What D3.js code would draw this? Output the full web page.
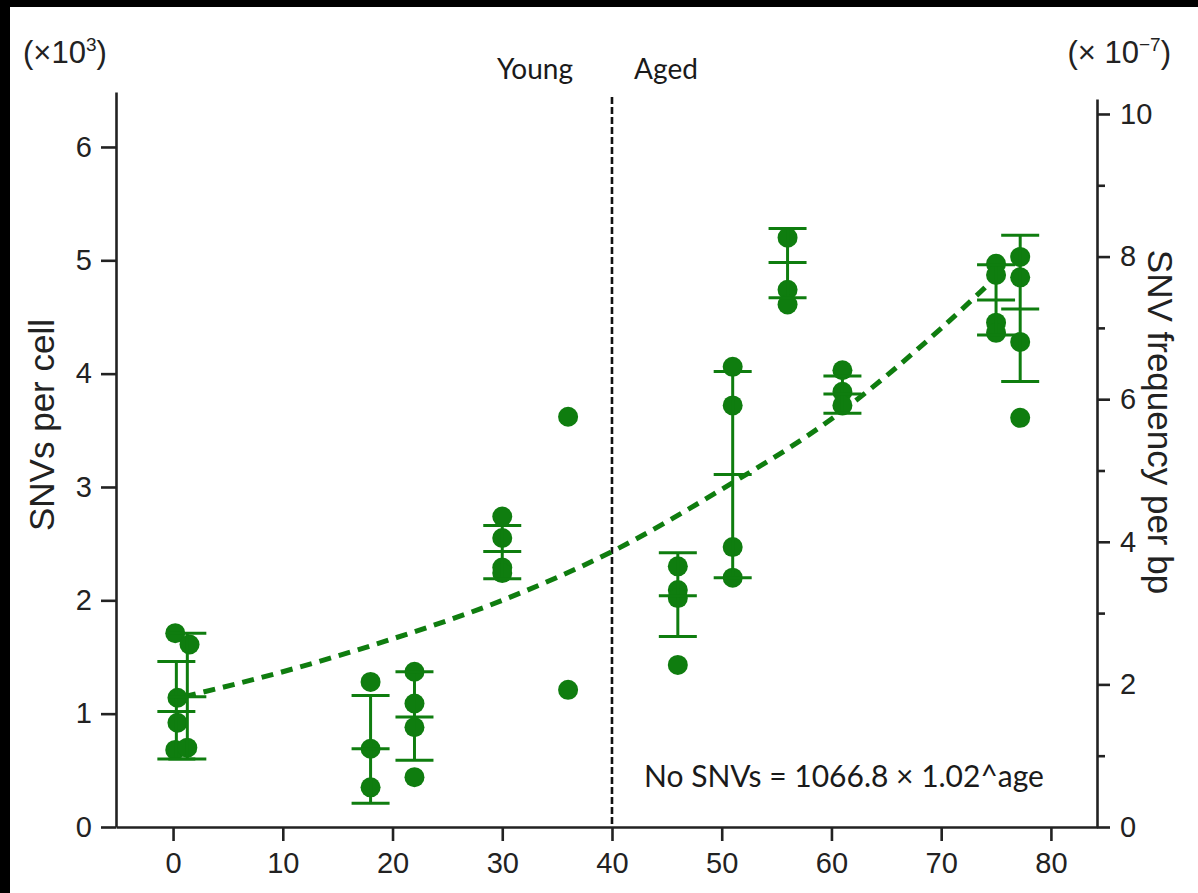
<!DOCTYPE html>
<html>
<head>
<meta charset="utf-8">
<script src="https://cdn.jsdelivr.net/npm/d3@7"></script>
<style>
  body { margin: 0; background: #000; }
  svg { display: block; }
</style>
</head>
<body>
<div id="chart"></div>
<script>
// single cells: donor age and SNVs per cell (x10^3)
const pointAges = [0.2, 0.4, 0.4, 0.2, 1.5, 1.3,
  18, 18, 18, 22, 22, 22, 22, 30, 30, 30, 30, 36, 36,
  46, 46, 46, 46, 51, 51, 51, 51, 56, 56, 56, 61, 61, 61,
  75, 75, 75, 75, 77.2, 77.2, 77.2, 77.2]
const pointValues = [1.71, 1.14, 0.92, 0.68, 1.61, 0.70,
  1.28, 0.69, 0.35, 1.37, 1.09, 0.88, 0.44, 2.74, 2.55, 2.29, 2.24, 3.62, 1.21,
  2.30, 2.09, 2.02, 1.43, 4.06, 3.72, 2.47, 2.20, 5.20, 4.74, 4.61, 4.03, 3.84, 3.72,
  4.97, 4.87, 4.45, 4.36, 5.03, 4.85, 4.28, 3.61]

// mean and SD bars per donor
const barAges = [0.3, 1.3, 18, 22, 30, 46, 51, 56, 61, 75, 77.2]
const barMean = [1.02, 1.15, 0.69, 0.97, 2.43, 2.04, 3.11, 4.98, 3.82, 4.65, 4.57]
const barLow = [0.60, 0.60, 0.21, 0.59, 2.19, 1.68, 2.20, 4.67, 3.65, 4.34, 3.93]
const barHigh = [1.46, 1.71, 1.16, 1.37, 2.66, 2.42, 4.02, 5.28, 3.98, 4.96, 5.22]

// exponential fit as drawn
const fitAges = [1, 10, 20, 30, 40, 50, 60, 70, 74]
const fitValues = [1.15, 1.37, 1.66, 2.00, 2.43, 2.98, 3.60, 4.40, 4.76]

const xTicks = [0, 10, 20, 30, 40, 50, 60, 70, 80]
const leftTicks = [0, 1, 2, 3, 4, 5, 6]
const rightTicks = [0, 2, 4, 6, 8, 10]
const rightMinor = [1, 3, 5, 7, 9]

const W = 1198, H = 893
const green = '#0f7d0f'
const axisFont = 'Liberation Sans, Arial, sans-serif'
const noteFont = 'Lato, Open Sans, sans-serif'

const svg = d3.select('#chart').append('svg')
  .attr('width', W)
  .attr('height', H)

svg.append('rect').attr('width', W).attr('height', H).attr('fill', '#000')
svg.append('rect').attr('x', 10).attr('y', 7).attr('width', W - 10).attr('height', H - 7).attr('fill', '#fff')

const x = d3.scaleLinear().domain([-5.2, 84.2]).range([116, 1097])
const y = d3.scaleLinear().domain([0, 6.485]).range([827, 92])
const y2 = d3.scaleLinear().domain([0, 10.21]).range([827, 99])

const styleAxis = g => {
  g.selectAll('path, line').attr('stroke', '#222').attr('stroke-width', 2.6)
  g.selectAll('text').attr('font-family', axisFont).attr('font-size', 29).attr('fill', '#222')
}

svg.append('g')
  .attr('transform', 'translate(0,827)')
  .call(d3.axisBottom(x).tickValues(xTicks).tickSize(14).tickSizeOuter(0).tickPadding(11))
  .call(styleAxis)

svg.append('g')
  .attr('transform', 'translate(116,0)')
  .call(d3.axisLeft(y).tickValues(leftTicks).tickFormat(d3.format('d')).tickSize(15).tickSizeOuter(0).tickPadding(9))
  .call(styleAxis)

svg.append('g')
  .attr('transform', 'translate(1097,0)')
  .call(d3.axisRight(y2).tickValues(rightTicks).tickSize(13).tickSizeOuter(0).tickPadding(10))
  .call(styleAxis)

svg.append('g')
  .attr('transform', 'translate(1097,0)')
  .call(d3.axisRight(y2).tickValues(rightMinor).tickSize(8).tickSizeOuter(0).tickFormat(''))
  .call(styleAxis)
  .select('.domain').remove()

// axis titles
svg.append('text')
  .attr('transform', 'translate(54,425) rotate(-90)')
  .attr('text-anchor', 'middle')
  .attr('font-family', axisFont).attr('font-size', 35).attr('fill', '#222')
  .text('SNVs per cell')

svg.append('text')
  .attr('transform', 'translate(1148,422) rotate(90)')
  .attr('text-anchor', 'middle')
  .attr('font-family', axisFont).attr('font-size', 35).attr('fill', '#222')
  .text('SNV frequency per bp')

// unit labels
const unitL = svg.append('text')
  .attr('x', 23).attr('y', 63)
  .attr('font-family', axisFont).attr('font-size', 31).attr('fill', '#222')
unitL.append('tspan').text('(×10')
unitL.append('tspan').attr('font-size', 19).attr('dy', -12).text('3')
unitL.append('tspan').attr('dy', 12).text(')')

const unitR = svg.append('text')
  .attr('x', 1171).attr('y', 63).attr('text-anchor', 'end')
  .attr('font-family', axisFont).attr('font-size', 31).attr('fill', '#222')
unitR.append('tspan').text('(× 10')
unitR.append('tspan').attr('font-size', 19).attr('dy', -12).text('−7')
unitR.append('tspan').attr('dy', 12).text(')')

// young / aged divider
svg.append('line')
  .attr('x1', x(40)).attr('x2', x(40))
  .attr('y1', 97).attr('y2', 827)
  .attr('stroke', '#111').attr('stroke-width', 2.6)
  .attr('stroke-dasharray', '7,3')

svg.append('text')
  .attr('x', 535).attr('y', 79).attr('text-anchor', 'middle')
  .attr('font-family', noteFont).attr('font-size', 28).attr('fill', '#1a1a1a')
  .text('Young')
svg.append('text')
  .attr('x', 666).attr('y', 79).attr('text-anchor', 'middle')
  .attr('font-family', noteFont).attr('font-size', 28).attr('fill', '#1a1a1a')
  .text('Aged')

// fit curve
const fit = d3.line()
  .x((d, i) => x(fitAges[i]))
  .y(d => y(d))
  .curve(d3.curveMonotoneX)

svg.append('path')
  .attr('d', fit(fitValues))
  .attr('fill', 'none')
  .attr('stroke', green)
  .attr('stroke-width', 5)
  .attr('stroke-dasharray', '12,8')

// points
svg.append('g').selectAll('circle')
  .data(pointValues)
  .enter()
  .append('circle')
  .attr('cx', (d, i) => x(pointAges[i]))
  .attr('cy', d => y(d))
  .attr('r', 10)
  .attr('fill', green)

// error bars
const bars = svg.append('g').attr('stroke', green).attr('stroke-width', 3)
barAges.forEach((a, i) => {
  const cx = x(a)
  bars.append('line').attr('x1', cx).attr('x2', cx).attr('y1', y(barLow[i])).attr('y2', y(barHigh[i]))
  ;[barLow[i], barMean[i], barHigh[i]].forEach(v => {
    bars.append('line').attr('x1', cx - 19).attr('x2', cx + 19).attr('y1', y(v)).attr('y2', y(v))
  })
})

svg.append('text')
  .attr('x', 644).attr('y', 787)
  .attr('font-family', noteFont).attr('font-size', 30).attr('fill', '#1a1a1a')
  .text('No SNVs = 1066.8 × 1.02^age')
</script>
</body>
</html>
